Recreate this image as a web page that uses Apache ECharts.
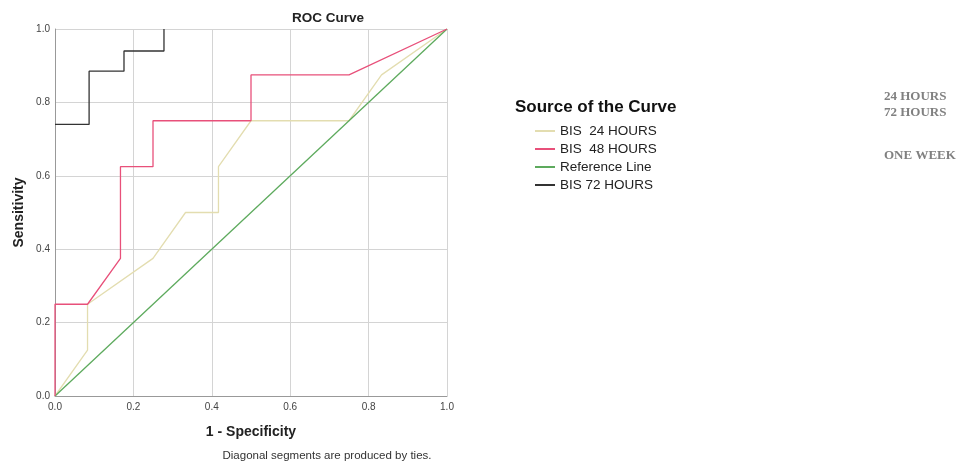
<!DOCTYPE html>
<html>
<head>
<meta charset="utf-8">
<script src="https://cdn.jsdelivr.net/npm/echarts@6/dist/echarts.min.js"></script>
<style>html,body{margin:0;padding:0;background:#fff}#c{width:960px;height:466px}</style>
</head>
<body>
<div id="c"></div>
<script>
const seriesNames = ['BIS  24 HOURS', 'BIS  48 HOURS', 'Reference Line', 'BIS 72 HOURS'];
const fpr24 = [0, 0.083, 0.083, 0.25, 0.333, 0.417, 0.417, 0.5, 0.75, 0.833, 1.0];
const tpr24 = [0, 0.125, 0.25, 0.375, 0.5, 0.5, 0.625, 0.75, 0.75, 0.875, 1.0];
const fpr48 = [0, 0, 0.083, 0.167, 0.167, 0.25, 0.25, 0.5, 0.5, 0.75, 1.0];
const tpr48 = [0, 0.25, 0.25, 0.375, 0.625, 0.625, 0.75, 0.75, 0.875, 0.875, 1.0];
const fprRef = [0, 1];
const tprRef = [0, 1];
const fpr72 = [0, 0.087, 0.087, 0.176, 0.176, 0.278, 0.278];
const tpr72 = [0.74, 0.74, 0.885, 0.885, 0.94, 0.94, 1.0];
const sideNotes = ['24 HOURS', '72 HOURS', 'ONE WEEK'];

const pairs = (xs, ys) => xs.map((x, i) => [x, ys[i]]);
const colors = ['#e3ddb0', '#e8507a', '#5daa5d', '#333333'];
const datasets = [pairs(fpr24, tpr24), pairs(fpr48, tpr48), pairs(fprRef, tprRef), pairs(fpr72, tpr72)];

const chart = echarts.init(document.getElementById('c'), null, {renderer: 'canvas'});
const axisLabel = {color: '#444', fontSize: 10, fontFamily: 'Liberation Sans, Arial', formatter: v => v.toFixed(1)};
chart.setOption({
  animation: false,
  backgroundColor: '#fff',
  grid: {left: 55, top: 29, width: 392, height: 367},
  xAxis: {
    type: 'value', min: 0, max: 1, interval: 0.2,
    name: '1 - Specificity', nameLocation: 'middle', nameGap: 29,
    nameTextStyle: {fontSize: 14, fontWeight: 'bold', color: '#222', fontFamily: 'Liberation Sans, Arial'},
    axisLine: {show: true, lineStyle: {color: '#999', width: 1}},
    axisTick: {show: false},
    axisLabel: Object.assign({margin: 6}, axisLabel),
    splitLine: {show: true, lineStyle: {color: '#d4d4d4', width: 1}}
  },
  yAxis: {
    type: 'value', min: 0, max: 1, interval: 0.2,
    name: 'Sensitivity', nameLocation: 'middle', nameGap: 29, nameRotate: 90,
    nameTextStyle: {fontSize: 14, fontWeight: 'bold', color: '#222', fontFamily: 'Liberation Sans, Arial'},
    axisLine: {show: true, lineStyle: {color: '#999', width: 1}},
    axisTick: {show: false},
    axisLabel: Object.assign({margin: 5}, axisLabel),
    splitLine: {show: true, lineStyle: {color: '#d4d4d4', width: 1}}
  },
  legend: {
    orient: 'vertical', left: 535, top: 124, padding: 0,
    data: seriesNames,
    icon: 'rect', itemWidth: 20, itemHeight: 2, itemGap: 4,
    textStyle: {fontSize: 13.5, color: '#222', fontFamily: 'Liberation Sans, Arial'}
  },
  series: seriesNames.map((n, i) => ({
    name: n, type: 'line', data: datasets[i], showSymbol: false, symbol: 'none',
    lineStyle: {color: colors[i], width: 1.3}, itemStyle: {color: colors[i]},
    z: i === 3 ? 5 : (i === 1 ? 4 : 3)
  })),
  graphic: [
    {type: 'text', x: 328, y: 11, style: {text: 'ROC Curve', fontSize: 13.5, fontWeight: 'bold', fill: '#222', textAlign: 'center', fontFamily: 'Liberation Sans, Arial'}},
    {type: 'text', x: 515, y: 99, style: {text: 'Source of the Curve', fontSize: 17, fontWeight: 'bold', fill: '#111', fontFamily: 'Liberation Sans, Arial'}},
    {type: 'text', x: 884, y: 90, style: {text: sideNotes[0], fontSize: 13, fontWeight: 'bold', fill: '#808080', fontFamily: 'Liberation Serif, Times New Roman'}},
    {type: 'text', x: 884, y: 106, style: {text: sideNotes[1], fontSize: 13, fontWeight: 'bold', fill: '#808080', fontFamily: 'Liberation Serif, Times New Roman'}},
    {type: 'text', x: 884, y: 149, style: {text: sideNotes[2], fontSize: 13, fontWeight: 'bold', fill: '#808080', fontFamily: 'Liberation Serif, Times New Roman'}},
    {type: 'text', x: 327, y: 450, style: {text: 'Diagonal segments are produced by ties.', fontSize: 11.5, fill: '#333', textAlign: 'center', fontFamily: 'Liberation Sans, Arial'}}
  ]
});
</script>
</body>
</html>
